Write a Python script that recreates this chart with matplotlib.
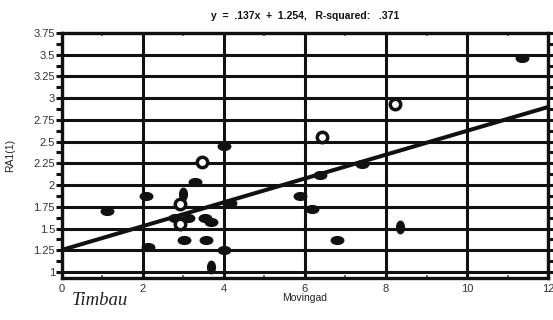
import numpy as np
import matplotlib
matplotlib.use("Agg")
import matplotlib.pyplot as plt
from matplotlib.path import Path
from matplotlib.transforms import Affine2D
from matplotlib.ticker import MultipleLocator, FuncFormatter

# filled points, drawn as wide dots
flat_x = [1.11, 2.07, 2.12, 3.28, 2.79, 3.11, 3.53, 3.68, 3.01, 3.56, 4.00, 4.15,
          4.00, 7.41, 6.37, 5.88, 6.17, 6.79, 11.36]
flat_y = [1.70, 1.87, 1.29, 2.04, 1.62, 1.62, 1.62, 1.58, 1.37, 1.37, 1.25, 1.79,
          2.45, 2.24, 2.12, 1.87, 1.72, 1.37, 3.46]
# filled points, drawn as tall dots
tall_x = [2.98, 3.68, 8.35]
tall_y = [1.90, 1.06, 1.52]
# open circles
open_x = [3.45, 2.91, 2.91, 6.42, 8.22]
open_y = [2.27, 1.78, 1.55, 2.55, 2.93]

SLOPE, INTERCEPT, R2 = 0.137, 1.254, 0.371
XLIM = (0, 12)
YLIM = (0.93, 3.75)

INK = "#111111"
plt.rcParams["font.family"] = ["Liberation Sans", "DejaVu Sans"]

circ = Path.unit_circle()
wide = circ.transformed(Affine2D().scale(1.0, 0.62))
tall = circ.transformed(Affine2D().scale(0.62, 1.0))

fig = plt.figure(figsize=(5.53, 3.2), dpi=100)
ax = fig.add_axes([0.112, 0.131, 0.879, 0.766])

ax.set_xlim(*XLIM)
ax.set_ylim(*YLIM)

ax.xaxis.set_major_locator(MultipleLocator(2))
ax.xaxis.set_minor_locator(MultipleLocator(1))
ax.yaxis.set_major_locator(MultipleLocator(0.25))
ax.yaxis.set_minor_locator(MultipleLocator(0.125))
ax.yaxis.set_major_formatter(FuncFormatter(lambda v, p: f"{v:g}"))

ax.grid(True, which="major", color=INK, lw=2.2)
ax.set_axisbelow(True)

xs = np.array(XLIM, dtype=float)
ax.plot(xs, SLOPE * xs + INTERCEPT, color=INK, lw=2.9, solid_capstyle="butt", zorder=3)

ax.plot(flat_x, flat_y, ls="none", marker=wide, ms=9, color=INK, zorder=4)
ax.plot(tall_x, tall_y, ls="none", marker=tall, ms=9, color=INK, zorder=4)
ax.plot(open_x, open_y, ls="none", marker="o", ms=7.5, mfc="white", mec=INK,
        mew=2.5, zorder=5)

for s in ax.spines.values():
    s.set_color(INK)
    s.set_linewidth(2.4)

ax.tick_params(axis="y", which="both", left=True, right=True, direction="out",
               length=4, width=2.2, color=INK, labelsize=8, labelcolor="#333333", pad=1)
ax.tick_params(axis="x", which="major", bottom=False, top=False, labelsize=8,
               labelcolor="#333333", pad=1)
ax.tick_params(axis="x", which="minor", bottom=True, top=True, direction="in",
               length=2, width=1.2, color="#555555")

ax.set_title(f"y  =  {SLOPE:.3f}x  +  {INTERCEPT:.3f},   R-squared:   {R2:.3f}".replace("0.", "."),
             fontsize=7.5, fontweight="bold", color=INK, pad=10)
ax.set_xlabel("Movingad", fontsize=7.5, color="#222222", labelpad=-1)
ax.set_ylabel("RA1(1)", fontsize=7.5, color="#222222", labelpad=13)

fig.text(0.130, 0.048, "Timbau", fontsize=13.5, style="italic", color="#222222",
         family=["Liberation Serif", "DejaVu Serif"])

fig.savefig("out.png", dpi=100, facecolor="white")
